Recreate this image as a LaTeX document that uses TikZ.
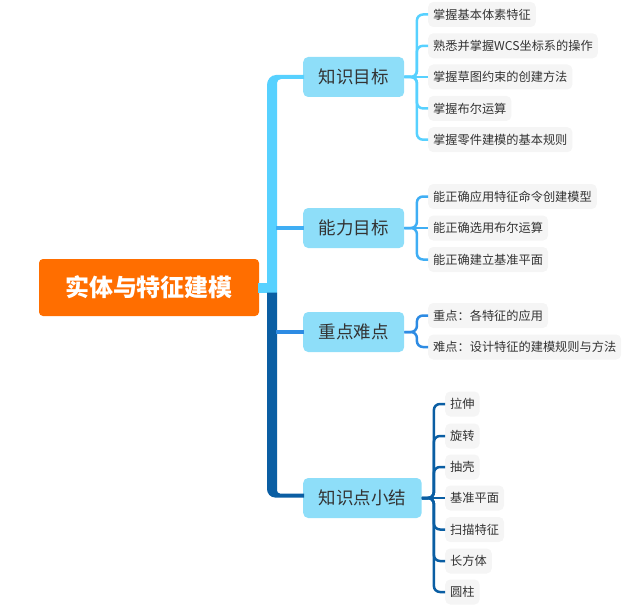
\documentclass[tikz,border=0pt]{standalone}
\usepackage{fontspec}
\setmainfont{Noto Sans CJK SC}
\usetikzlibrary{calc}
\definecolor{cA}{HTML}{57D1FF}
\definecolor{cB}{HTML}{3FAEF4}
\definecolor{cC}{HTML}{2D8BE3}
\definecolor{cD}{HTML}{0A5EA3}
\definecolor{brfill}{HTML}{8EDEF9}
\definecolor{leaffill}{HTML}{F5F5F5}
\definecolor{rootfill}{HTML}{FF6E00}
\definecolor{txt}{HTML}{333333}
\tikzset{
  rootbox/.style={fill=rootfill, rounded corners=4pt, minimum width=220pt, minimum height=57pt, inner sep=0pt, text=white, font=\fontsize{24}{28}\selectfont\bfseries},
  branchbox/.style={fill=brfill, rounded corners=5pt, minimum height=40pt, inner xsep=15.5pt, inner ysep=0pt, text=txt, font=\fontsize{17.5}{20}\selectfont, anchor=west},
  leafbox/.style={fill=leaffill, rounded corners=5pt, minimum height=25pt, inner xsep=5pt, inner ysep=0pt, text=txt, font=\fontsize{12.2}{14}\selectfont, anchor=west},
  leafline/.style={line width=2.5pt, rounded corners=6pt},
  stemline/.style={line width=3.5pt}
}
\begin{document}
\begin{tikzpicture}[x=1pt,y=-1pt]
\useasboundingbox (0,0) rectangle (630,610);
% root
\node[rootbox] (root) at (149,287.5) {实体与特征建模};
% branches
\node[branchbox] (b1) at (303,77) {知识目标};
\node[branchbox] (b2) at (303,228) {能力目标};
\node[branchbox] (b3) at (303,332) {重点难点};
\node[branchbox] (b4) at (303,498) {知识点小结};
% leaves of b1
\node[leafbox] (l11) at (428,14.5) {掌握基本体素特征};
\node[leafbox] (l12) at (428,45.8) {熟悉并掌握WCS坐标系的操作};
\node[leafbox] (l13) at (428,77) {掌握草图约束的创建方法};
\node[leafbox] (l14) at (428,108.4) {掌握布尔运算};
\node[leafbox] (l15) at (428,139.7) {掌握零件建模的基本规则};
% leaves of b2
\node[leafbox] (l21) at (428,196.5) {能正确应用特征命令创建模型};
\node[leafbox] (l22) at (428,228) {能正确选用布尔运算};
\node[leafbox] (l23) at (428,259.5) {能正确建立基准平面};
% leaves of b3
\node[leafbox] (l31) at (428,315.5) {重点：各特征的应用};
\node[leafbox] (l32) at (428,347) {难点：设计特征的建模规则与方法};
% leaves of b4
\node[leafbox] (l41) at (445,404) {拉伸};
\node[leafbox] (l42) at (445,436) {旋转};
\node[leafbox] (l43) at (445,467) {抽壳};
\node[leafbox] (l44) at (445,498) {基准平面};
\node[leafbox] (l45) at (445,529.5) {扫描特征};
\node[leafbox] (l46) at (445,561) {长方体};
\node[leafbox] (l47) at (445,592) {圆柱};

% trunk: root connector
\fill[cA] ($(root.east)+(-1,-5)$) rectangle ($(root.east)+(9,5)$);
% upper trunk to b1
\fill[cA] (267,293) -- (267,85) .. controls (267,79.5) and (271,75) .. (276,75)
  -- ($(b1.west)+(1,-2)$) -- ($(b1.west)+(1,2)$) -- (281,79)
  .. controls (278.8,79) and (277,80.8) .. (277,83) -- (277,293) -- cycle;
% lower trunk to b4
\fill[cD] (267,292.5) -- (267,489) .. controls (267,493.5) and (270.5,497.5) .. (275,497.5)
  -- ($(b4.west)+(1,-0.5)$) -- ($(b4.west)+(1,-4.5)$) -- (280,493.5)
  .. controls (278.3,493.5) and (277,492.2) .. (277,490.5) -- (277,292.5) -- cycle;
% thin stems
\coordinate (tx) at (276,0);
\draw[stemline, cB] (tx |- b2.west) -- ($(b2.west)+(1,0)$);
\draw[stemline, cC] (tx |- b3.west) -- ($(b3.west)+(1,0)$);

% leaf connectors b1
\foreach \l in {l11,l12,l14,l15}{
  \draw[leafline, cA] (b1.east) -- ++(12.5,0) |- (\l.west);
}
\draw[leafline, cA] (b1.east) -- (l13.west);
% b2
\foreach \l in {l21,l23}{
  \draw[leafline, cB] (b2.east) -- ++(12.5,0) |- (\l.west);
}
\draw[leafline, cB] (b2.east) -- (l22.west);
% b3
\foreach \l in {l31,l32}{
  \draw[leafline, cC] (b3.east) -- ++(12.5,0) |- (\l.west);
}
% b4
\foreach \l in {l41,l42,l43,l45,l46,l47}{
  \draw[leafline, cD] (b4.east) -- ++(12,0) |- (\l.west);
}
\draw[leafline, cD] (b4.east) -- (l44.west);
\end{tikzpicture}
\end{document}
